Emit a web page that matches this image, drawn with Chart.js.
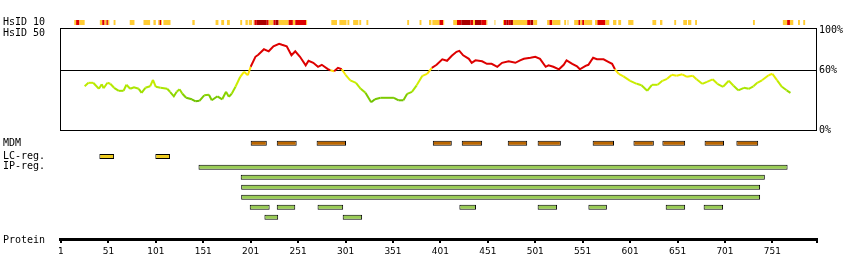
<!DOCTYPE html>
<html>
<head>
<meta charset="utf-8">
<title>HsID profile</title>
<script src="https://cdn.jsdelivr.net/npm/chart.js@4/dist/chart.umd.min.js"></script>
<style>
  html, body { margin: 0; padding: 0; background: #fff; }
  #wrap { width: 850px; height: 280px; }
</style>
</head>
<body>
<div id="wrap"><canvas id="chart" width="850" height="280"></canvas></div>
<script>
// ---------- data ----------
const proteinLength = 798;
const axisTicks = [1, 51, 101, 151, 201, 251, 301, 351, 401, 451, 501, 551, 601, 651, 701, 751];

// HsID 50 identity profile (residue, % identity)
const idResidue = [26, 30, 35, 41, 44, 46, 50, 53, 57, 62, 67, 70, 74, 78, 83, 86, 90, 95, 98, 101,
  106, 113, 116, 120, 123, 126, 129, 133, 139, 143, 147, 152, 157, 160, 166, 171, 175, 178, 181, 185,
  190, 194, 198, 201, 206, 209, 215, 220, 225, 231, 234, 239, 244, 248, 253, 259, 262, 267, 272, 276,
  282, 285, 289, 293, 297, 301, 306, 312, 317, 322, 328, 332, 338, 352, 357, 362, 366, 371, 376, 382,
  387, 392, 397, 403, 408, 413, 418, 421, 425, 431, 434, 438, 445, 450, 455, 461, 466, 473, 480, 485,
  489, 496, 501, 506, 512, 515, 520, 526, 531, 534, 540, 545, 548, 554, 557, 562, 566, 573, 578, 582,
  585, 589, 594, 601, 608, 613, 619, 624, 630, 635, 640, 645, 650, 656, 661, 667, 671, 677, 682, 688,
  693, 699, 705, 710, 715, 721, 726, 731, 735, 740, 747, 751, 756, 761, 766, 770];
const idValue = [44, 47.5, 47.5, 41.5, 46, 42, 47.5, 46.5, 42.5, 39.5, 39.5, 45.5, 41.5, 43, 41.5, 37.5, 42.5, 44, 50.5, 43.5,
  42.5, 41.5, 38.5, 34, 38.5, 41, 36.5, 32.5, 31, 29, 29.5, 35, 35.5, 30, 34, 31, 38.5, 33.5, 36.5, 43.5,
  53.5, 58.5, 55, 63.5, 73.5, 75.5, 81, 79, 84, 86.5, 85.5, 84, 75, 79, 73.5, 65, 69.5, 67.5, 63.5, 65.5,
  61.5, 60, 59, 62.5, 61, 55.5, 50, 47.5, 41.5, 37.5, 28, 31, 32.5, 32.5, 30, 30, 36.5, 38.5, 45, 54.5,
  56.5, 62.5, 65.5, 71, 69.5, 74.5, 78.5, 79.5, 75, 71.5, 67.5, 70, 69, 66.5, 66.5, 63.5, 67.5, 69, 67.5, 70,
  71.5, 72.5, 73.5, 71.5, 63.5, 65, 63.5, 61, 65.5, 70, 66.5, 64, 61, 64.5, 65.5, 72.5, 71, 71, 68.5, 66.5,
  61, 56.5, 54, 49.5, 46.5, 45, 39.5, 45.5, 45.5, 49.5, 51.5, 55.5, 54.5, 56, 53.5, 54.5, 51, 46.5, 48.5, 51,
  46.5, 43.5, 49.5, 44.5, 40, 42.5, 41.5, 44, 47.5, 50, 55, 56.5, 50, 43.5, 40, 37.5];

// HsID 10 blocks: [start, end, level]  1 = low, 2 = medium, 3 = high
const hsid10 = [
  [15, 17, 1], [17, 20.5, 2], [20.5, 26, 1],
  [42, 44.5, 1], [44.5, 47, 2], [47, 49, 1], [49, 50.5, 2], [50.5, 52, 1],
  [56.5, 58.5, 1], [73.5, 78.5, 1], [88, 95, 1], [98.5, 101, 1],
  [103.5, 105, 1], [105, 106.5, 2], [106.5, 107.5, 1], [109, 116.5, 1],
  [139.5, 142, 1], [164, 167, 1], [170, 173, 1], [176, 179, 1], [190, 192, 1], [195.5, 198, 1], [199, 202.5, 1],
  [204, 205, 1], [205, 207.5, 2], [207.5, 218, 3], [218, 220, 2], [220, 225, 1], [225, 227, 2], [227, 230.5, 3],
  [230.5, 241, 1], [241, 245.5, 2], [245.5, 248, 1], [248, 259.5, 2], [259.5, 260.5, 1],
  [286, 292, 1], [294.5, 302, 1], [303, 305, 1], [309, 314.5, 1], [315.5, 317.5, 1], [323, 325, 1],
  [366, 368, 1], [379, 381, 1], [389, 391.5, 1], [392.5, 400, 1], [400, 404, 2], [404, 405, 1],
  [414.5, 418.5, 1], [418.5, 423, 2], [423, 432.5, 3], [432.5, 435.5, 2], [435.5, 437.5, 1], [437.5, 444, 3],
  [444, 449.5, 2], [449.5, 450.5, 1], [458, 459, 1],
  [467, 468, 1], [468, 470.5, 2], [470.5, 472.5, 3], [472.5, 474.5, 2], [474.5, 477.5, 3], [477.5, 492.5, 1],
  [492.5, 496, 2], [496, 499, 3], [499, 503, 1],
  [513.5, 516, 1], [516, 519, 2], [519, 527.5, 1], [531.5, 533.5, 1], [535, 536, 1],
  [542, 546.5, 1], [546.5, 548.5, 2], [548.5, 550.5, 1], [550.5, 552.5, 2], [552.5, 561, 1],
  [564, 566.5, 1], [566.5, 575, 2], [575, 579, 1], [583, 586.5, 1], [588.5, 591.5, 1], [599, 604.5, 1],
  [624.5, 628.5, 1], [632.5, 635, 1], [647.5, 649.5, 1], [657, 661, 1], [662, 665.5, 1], [669.5, 671.5, 1],
  [730.5, 732.5, 1], [762, 766.5, 1], [766.5, 769.5, 2], [769.5, 773, 1], [778, 780, 1], [783.5, 785.5, 1]
];

const mdmRegions = [[201, 218], [228.5, 249.5], [270.5, 301.5], [393, 413], [423.5, 445], [472, 492.5],
  [503.5, 528], [561.5, 584], [604.5, 626], [635, 659], [679.5, 700], [713, 736]];
const lcRegions = [[41.5, 57], [100.5, 116]];
const ipRows = [
  [[146, 767]],
  [[190.5, 743]],
  [[191, 738]],
  [[191, 738]],
  [[200, 221], [228.5, 248], [271.5, 298.5], [421, 438.5], [503.5, 524], [557, 576.5], [638.5, 659], [678.5, 699]],
  [[215.5, 230], [298, 318.5]]
];

const pctTicks = [0, 60, 100];
const threshold = 60;

// ---------- layout / style ----------
const ROW = { hsid10: 22.5, mdm: 143.2, lc: 156.5, ipFirst: 167.2, ipStep: 10 };
const rowLabels = [['HsID 10', 22.5], ['HsID 50', 33], ['MDM', 143], ['LC-reg.', 156], ['IP-reg.', 166.5], ['Protein', 240]];
const levelColor = { 1: '#FFCC33', 2: '#DD0000', 3: '#AA0000' };
const boxTop = 101.8;

const stops = [[28, [102, 187, 0]], [35, [136, 210, 0]], [42, [170, 230, 0]], [50, [210, 238, 0]], [57, [245, 238, 0]], [60, [255, 221, 0]]];
function identityColor(v) {
  if (v > threshold) return '#DD0000';
  if (v <= stops[0][0]) return 'rgb(' + stops[0][1].join(',') + ')';
  for (let i = 1; i < stops.length; i++) {
    if (v <= stops[i][0]) {
      const [a, ca] = stops[i - 1], [b, cb] = stops[i];
      const t = (v - a) / (b - a);
      return 'rgb(' + ca.map((c, k) => Math.round(c + (cb[k] - c) * t)).join(',') + ')';
    }
  }
  return 'rgb(' + stops[stops.length - 1][1].join(',') + ')';
}

Chart.defaults.font.family = "'DejaVu Sans Mono', monospace";
Chart.defaults.font.size = 10;
Chart.defaults.color = '#000';

const frame = {
  id: 'frame',
  beforeDatasetsDraw(chart) {
    const { ctx, scales: { x, pct } } = chart;
    const l = Math.round(x.left) + 0.5, r = Math.round(x.right) - 0.5;
    const t = Math.floor(pct.getPixelForValue(boxTop)) + 0.5;
    const b = Math.floor(pct.getPixelForValue(0)) + 0.5;
    const m = Math.floor(pct.getPixelForValue(threshold)) + 0.5;
    ctx.save();
    ctx.strokeStyle = '#000';
    ctx.lineWidth = 1;
    ctx.strokeRect(l, t, r - l, b - t);
    ctx.beginPath();
    ctx.moveTo(l, m);
    ctx.lineTo(r, m);
    ctx.stroke();
    ctx.restore();
  }
};

const barCommon = {
  type: 'bar', indexAxis: 'y', xAxisID: 'x', yAxisID: 'row',
  grouped: false, maxBarThickness: 5, borderSkipped: false
};

const ipData = [];
ipRows.forEach((row, i) => row.forEach(s => ipData.push({ x: s, y: ROW.ipFirst + i * ROW.ipStep })));

new Chart(document.getElementById('chart'), {
  type: 'line',
  data: {
    datasets: [
      {
        label: 'HsID 50',
        data: idResidue.map((r, i) => ({ x: r, y: idValue[i] })),
        xAxisID: 'x', yAxisID: 'pct',
        borderWidth: 2, pointRadius: 0, tension: 0,
        borderColor: '#DD0000',
        segment: { borderColor: c => identityColor((c.p0.parsed.y + c.p1.parsed.y) / 2) }
      },
      Object.assign({}, barCommon, {
        label: 'HsID 10',
        data: hsid10.map(s => ({ x: [s[0], s[1]], y: ROW.hsid10 })),
        backgroundColor: hsid10.map(s => levelColor[s[2]]),
        borderWidth: 0
      }),
      Object.assign({}, barCommon, {
        label: 'MDM',
        data: mdmRegions.map(s => ({ x: s, y: ROW.mdm })),
        backgroundColor: '#BB6600', borderColor: '#000', borderWidth: 1
      }),
      Object.assign({}, barCommon, {
        label: 'LC-reg.',
        data: lcRegions.map(s => ({ x: s, y: ROW.lc })),
        backgroundColor: '#EECC22', borderColor: '#000', borderWidth: 1
      }),
      Object.assign({}, barCommon, {
        label: 'IP-reg.',
        data: ipData,
        backgroundColor: '#99CC55', borderColor: '#000', borderWidth: 1
      })
    ]
  },
  options: {
    responsive: false,
    animation: false,
    layout: { padding: { top: 12, left: 3, right: 0, bottom: 0 } },
    plugins: { legend: { display: false }, tooltip: { enabled: false } },
    scales: {
      x: {
        type: 'linear', position: 'bottom', min: 0, max: proteinLength, offset: false,
        afterBuildTicks: s => { s.ticks = axisTicks.concat([proteinLength]).map(v => ({ value: v })); },
        afterFit: s => { s.height = 41; },
        ticks: {
          autoSkip: false, maxRotation: 0, padding: 3,
          font: { family: "'DejaVu Sans', sans-serif", size: 9 },
          callback: v => axisTicks.includes(v) ? String(v) : ''
        },
        grid: { display: true, offset: false, drawOnChartArea: false, drawTicks: true, tickLength: 4, lineWidth: 2, color: '#000' },
        border: { display: true, width: 3, color: '#000' }
      },
      row: {
        type: 'linear', position: 'left', reverse: true, min: 12, max: 239, offset: false,
        afterBuildTicks: s => { s.ticks = rowLabels.map(r => ({ value: r[1] })); },
        afterFit: s => { s.width = 57; },
        ticks: { autoSkip: false, crossAlign: 'far', padding: 0, callback: (v, i) => rowLabels[i] ? rowLabels[i][0] : '' },
        grid: { display: false, drawTicks: false, offset: false },
        border: { display: false }
      },
      pct: {
        type: 'linear', position: 'right', min: -108.7, max: 118.3, offset: false,
        afterBuildTicks: s => { s.ticks = pctTicks.map(v => ({ value: v })); },
        afterFit: s => { s.width = 33; },
        ticks: { autoSkip: false, padding: 2, callback: v => v + '%' },
        grid: { display: false, drawTicks: false },
        border: { display: false }
      }
    }
  },
  plugins: [frame]
});
</script>
</body>
</html>
